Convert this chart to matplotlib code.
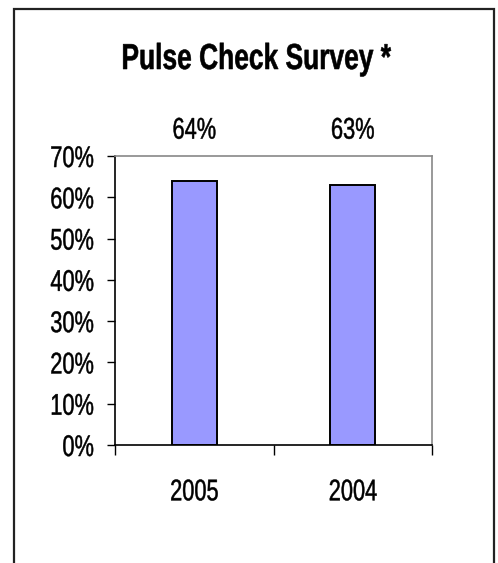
import matplotlib.pyplot as plt
from matplotlib.patches import Rectangle
from matplotlib.patheffects import AbstractPathEffect
from matplotlib.transforms import Affine2D
from matplotlib.ticker import FuncFormatter

plt.rcParams['font.family'] = ['Liberation Sans', 'DejaVu Sans']

years = ['2005', '2004']
values = [0.64, 0.63]
labels = ['64%', '63%']


# the source uses a narrow font; squeeze the glyphs sideways to get close
class Narrow(AbstractPathEffect):
    def __init__(self, sx=0.73, anchor='center', weight=0.35):
        super().__init__()
        self.sx = sx
        self.anchor = anchor
        self.weight = weight

    def draw_path(self, renderer, gc, tpath, affine, rgbFace=None):
        ext = tpath.get_extents(affine)
        if self.anchor == 'right':
            x0 = ext.x1
        else:
            x0 = (ext.x0 + ext.x1) / 2
        t = affine + Affine2D().translate(-x0, 0).scale(self.sx, 1).translate(x0, 0)
        gc0 = renderer.new_gc()
        gc0.copy_properties(gc)
        gc0.set_linewidth(self.weight)
        gc0.set_foreground(rgbFace)
        renderer.draw_path(gc0, tpath, t, rgbFace)
        gc0.restore()


fig = plt.figure(figsize=(4.98, 5.63), dpi=100)

# outer frame, bottom edge runs off the picture
fig.patches.append(Rectangle((14 / 498, -0.05), 480 / 498, 1.05 - 9 / 563,
                             transform=fig.transFigure, fill=False,
                             edgecolor='#222222', linewidth=1.6))

ax = fig.add_axes([115 / 498, 1 - 445 / 563, 317 / 498, 289 / 563])
x = range(len(years))
ax.bar(x, values, width=0.284, color='#9999FF', edgecolor='black', linewidth=1.4)

ax.set_xlim(-0.5, 1.5)
ax.set_ylim(0, 0.7)
ax.set_yticks([i / 10 for i in range(8)])
ax.yaxis.set_major_formatter(FuncFormatter(lambda v, p: f'{v:.0%}'))
ax.tick_params(axis='y', length=5.5, width=1, pad=9.5, labelsize=21.5)

ax.set_xticks(list(x))
ax.set_xticklabels(years)
ax.set_xticks([-0.5, 0.5, 1.5], minor=True)
ax.tick_params(axis='x', which='major', length=0, pad=24, labelsize=21.5)
ax.tick_params(axis='x', which='minor', length=7, width=1)

for t in ax.get_yticklabels():
    t.set_path_effects([Narrow(anchor='right')])
for t in ax.get_xticklabels():
    t.set_path_effects([Narrow()])

ax.spines['left'].set_color('black')
ax.spines['bottom'].set_color('black')
ax.spines['top'].set_color('#888888')
ax.spines['right'].set_color('#888888')
for s in ax.spines.values():
    s.set_linewidth(1.2)

for i, lab in enumerate(labels):
    ax.annotate(lab, xy=(i, 1.0), xycoords=('data', 'axes fraction'),
                xytext=(0, 12.5), textcoords='offset points',
                ha='center', va='baseline', fontsize=21.5,
                path_effects=[Narrow()])

fig.text(256 / 498, 1 - 69 / 563, 'Pulse Check Survey *', ha='center', va='baseline',
         fontsize=26, fontweight='bold', path_effects=[Narrow(weight=0.4)])

fig.savefig('out.png', dpi=100)
